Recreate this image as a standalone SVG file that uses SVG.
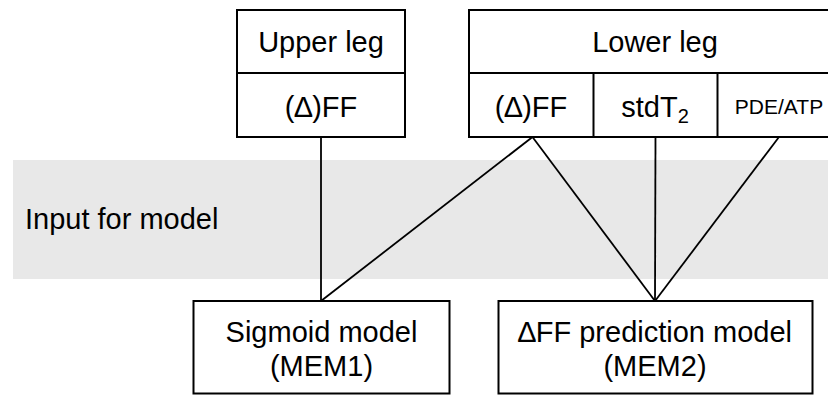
<svg xmlns="http://www.w3.org/2000/svg" width="828" height="395" viewBox="0 0 828 395">
  <style>
    .box { fill: #ffffff; stroke: #000000; stroke-width: 2; }
    .div { stroke: #000000; stroke-width: 2; fill: none; }
    .link { stroke: #000000; stroke-width: 1.8; fill: none; }
    text { font-family: "Liberation Sans", Arial, sans-serif; fill: #000000; }
    .lbl { font-size: 29px; text-anchor: middle; }
    .sm { font-size: 21px; text-anchor: middle; }
  </style>

  <!-- shaded band for the model inputs -->
  <g id="input-band">
    <rect x="13" y="160" width="815" height="119" fill="#e8e8e8"/>
    <text x="25" y="229" font-size="29">Input for model</text>
  </g>

  <!-- connectors -->
  <g id="connectors">
    <line class="link" x1="321" y1="137" x2="321" y2="301"/>
    <line class="link" x1="532.5" y1="137" x2="321" y2="301"/>
    <line class="link" x1="532.5" y1="137" x2="655" y2="301"/>
    <line class="link" x1="655.5" y1="137" x2="655" y2="301"/>
    <line class="link" x1="779" y1="137" x2="655" y2="301"/>
  </g>

  <g id="upper-leg">
    <rect class="box" x="237" y="10" width="168" height="127"/>
    <line class="div" x1="237" y1="73" x2="405" y2="73"/>
    <text class="lbl" x="321" y="52">Upper leg</text>
    <text class="lbl" x="321" y="117">(∆)FF</text>
  </g>

  <g id="lower-leg">
    <rect class="box" x="469" y="10" width="372" height="127"/>
    <line class="div" x1="469" y1="73" x2="841" y2="73"/>
    <line class="div" x1="593.5" y1="73" x2="593.5" y2="137"/>
    <line class="div" x1="717.5" y1="73" x2="717.5" y2="137"/>
    <text class="lbl" x="655" y="52">Lower leg</text>
    <text class="lbl" x="531" y="117">(∆)FF</text>
    <text class="lbl" x="655" y="117">stdT<tspan font-size="20" dy="6">2</tspan></text>
    <text class="sm" x="779" y="114">PDE/ATP</text>
  </g>

  <g id="mem1">
    <rect class="box" x="193.5" y="301" width="256" height="92.5"/>
    <text class="lbl" x="321.5" y="342">Sigmoid model</text>
    <text class="lbl" x="321.5" y="376">(MEM1)</text>
  </g>

  <g id="mem2">
    <rect class="box" x="498.5" y="301" width="314" height="92.5"/>
    <text class="lbl" x="655" y="342">∆FF prediction model</text>
    <text class="lbl" x="655" y="376">(MEM2)</text>
  </g>
</svg>
